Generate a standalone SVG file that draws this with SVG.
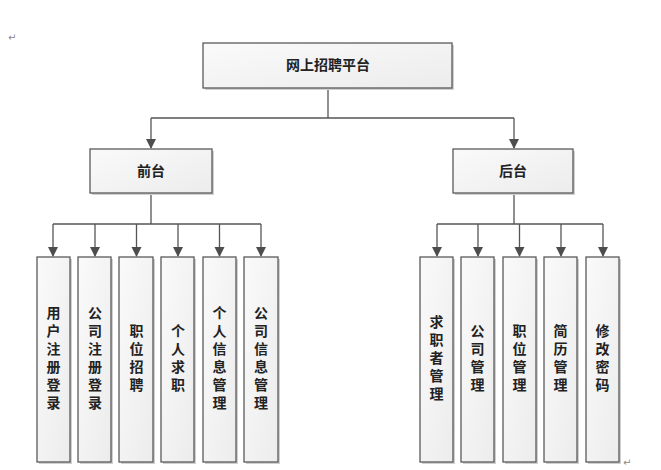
<svg xmlns="http://www.w3.org/2000/svg" width="661" height="470" viewBox="0 0 661 470">
<defs>
<marker id="arr" markerWidth="10" markerHeight="11" refX="9" refY="5" orient="auto" markerUnits="userSpaceOnUse">
<path d="M0,0 L10,5 L0,10 Z" fill="#4d4d4d"/>
</marker>
<linearGradient id="g" x1="0" y1="0" x2="1" y2="1">
<stop offset="0" stop-color="#fafafa"/>
<stop offset="1" stop-color="#ececec"/>
</linearGradient>
</defs>
<style>
.box{fill:url(#g);stroke:#5a5a5a;stroke-width:1.3}
.sh{fill:#d0d0d0}
.t{font-family:"Liberation Sans","Noto Sans CJK SC",sans-serif;font-size:14px;font-weight:bold;fill:#222;text-anchor:middle}
.c{fill:none;stroke:#555;stroke-width:1.3}
.pm{font-family:"DejaVu Sans",sans-serif;font-size:10px;fill:#888}
</style>
<rect width="661" height="470" fill="#fff"/>
<text class="pm" x="8" y="41">↵</text>
<text class="pm" x="623" y="466">↵</text>

<g id="connectors">
<path class="c" d="M328,88 V118"/>
<path class="c" d="M151,118 H514"/>
<path class="c" d="M151,118 V148" marker-end="url(#arr)"/>
<path class="c" d="M514,118 V148" marker-end="url(#arr)"/>
<path class="c" d="M151,193 V224 M53,224 H261"/>
<path class="c" d="M53,224 V256" marker-end="url(#arr)"/>
<path class="c" d="M95,224 V256" marker-end="url(#arr)"/>
<path class="c" d="M136.5,224 V256" marker-end="url(#arr)"/>
<path class="c" d="M178,224 V256" marker-end="url(#arr)"/>
<path class="c" d="M219.5,224 V256" marker-end="url(#arr)"/>
<path class="c" d="M261,224 V256" marker-end="url(#arr)"/>
<path class="c" d="M514,193 V224 M437,224 H603"/>
<path class="c" d="M437,224 V256" marker-end="url(#arr)"/>
<path class="c" d="M478,224 V256" marker-end="url(#arr)"/>
<path class="c" d="M519.5,224 V256" marker-end="url(#arr)"/>
<path class="c" d="M561,224 V256" marker-end="url(#arr)"/>
<path class="c" d="M603,224 V256" marker-end="url(#arr)"/>
</g>

<g id="root">
<rect class="sh" x="205" y="45" width="249" height="45"/>
<rect class="box" x="203" y="43" width="249" height="45"/>
<text class="t" x="328" y="70">网上招聘平台</text>
</g>

<g id="front">
<rect class="sh" x="92" y="151" width="122" height="44"/>
<rect class="box" x="90" y="149" width="122" height="44"/>
<text class="t" x="151" y="176">前台</text>
</g>

<g id="back">
<rect class="sh" x="455" y="151" width="120" height="44"/>
<rect class="box" x="453" y="149" width="120" height="44"/>
<text class="t" x="513" y="176">后台</text>
</g>

<g id="f1">
<rect class="sh" x="39" y="259" width="33" height="205"/>
<rect class="box" x="37" y="257" width="33" height="205"/>
<text class="t" x="53.5" y="318">用</text><text class="t" x="53.5" y="336">户</text><text class="t" x="53.5" y="354">注</text><text class="t" x="53.5" y="372">册</text><text class="t" x="53.5" y="390">登</text><text class="t" x="53.5" y="408">录</text>
</g>
<g id="f2">
<rect class="sh" x="80" y="259" width="33" height="205"/>
<rect class="box" x="78" y="257" width="33" height="205"/>
<text class="t" x="95" y="318">公</text><text class="t" x="95" y="336">司</text><text class="t" x="95" y="354">注</text><text class="t" x="95" y="372">册</text><text class="t" x="95" y="390">登</text><text class="t" x="95" y="408">录</text>
</g>
<g id="f3">
<rect class="sh" x="121" y="259" width="34" height="205"/>
<rect class="box" x="119" y="257" width="34" height="205"/>
<text class="t" x="136.5" y="336">职</text><text class="t" x="136.5" y="354">位</text><text class="t" x="136.5" y="372">招</text><text class="t" x="136.5" y="390">聘</text>
</g>
<g id="f4">
<rect class="sh" x="163" y="259" width="33" height="205"/>
<rect class="box" x="161" y="257" width="33" height="205"/>
<text class="t" x="178" y="336">个</text><text class="t" x="178" y="354">人</text><text class="t" x="178" y="372">求</text><text class="t" x="178" y="390">职</text>
</g>
<g id="f5">
<rect class="sh" x="205" y="259" width="33" height="205"/>
<rect class="box" x="203" y="257" width="33" height="205"/>
<text class="t" x="219.5" y="318">个</text><text class="t" x="219.5" y="336">人</text><text class="t" x="219.5" y="354">信</text><text class="t" x="219.5" y="372">息</text><text class="t" x="219.5" y="390">管</text><text class="t" x="219.5" y="408">理</text>
</g>
<g id="f6">
<rect class="sh" x="246" y="259" width="34" height="205"/>
<rect class="box" x="244" y="257" width="34" height="205"/>
<text class="t" x="261" y="318">公</text><text class="t" x="261" y="336">司</text><text class="t" x="261" y="354">信</text><text class="t" x="261" y="372">息</text><text class="t" x="261" y="390">管</text><text class="t" x="261" y="408">理</text>
</g>

<g id="b1">
<rect class="sh" x="422" y="259" width="33" height="205"/>
<rect class="box" x="420" y="257" width="33" height="205"/>
<text class="t" x="436.5" y="327">求</text><text class="t" x="436.5" y="345">职</text><text class="t" x="436.5" y="363">者</text><text class="t" x="436.5" y="381">管</text><text class="t" x="436.5" y="399">理</text>
</g>
<g id="b2">
<rect class="sh" x="463" y="259" width="33" height="205"/>
<rect class="box" x="461" y="257" width="33" height="205"/>
<text class="t" x="477.5" y="336">公</text><text class="t" x="477.5" y="354">司</text><text class="t" x="477.5" y="372">管</text><text class="t" x="477.5" y="390">理</text>
</g>
<g id="b3">
<rect class="sh" x="505" y="259" width="33" height="205"/>
<rect class="box" x="503" y="257" width="33" height="205"/>
<text class="t" x="519.5" y="336">职</text><text class="t" x="519.5" y="354">位</text><text class="t" x="519.5" y="372">管</text><text class="t" x="519.5" y="390">理</text>
</g>
<g id="b4">
<rect class="sh" x="546" y="259" width="33" height="205"/>
<rect class="box" x="544" y="257" width="33" height="205"/>
<text class="t" x="560.5" y="336">简</text><text class="t" x="560.5" y="354">历</text><text class="t" x="560.5" y="372">管</text><text class="t" x="560.5" y="390">理</text>
</g>
<g id="b5">
<rect class="sh" x="588" y="259" width="33" height="205"/>
<rect class="box" x="586" y="257" width="33" height="205"/>
<text class="t" x="602.5" y="336">修</text><text class="t" x="602.5" y="354">改</text><text class="t" x="602.5" y="372">密</text><text class="t" x="602.5" y="390">码</text>
</g>
</svg>
